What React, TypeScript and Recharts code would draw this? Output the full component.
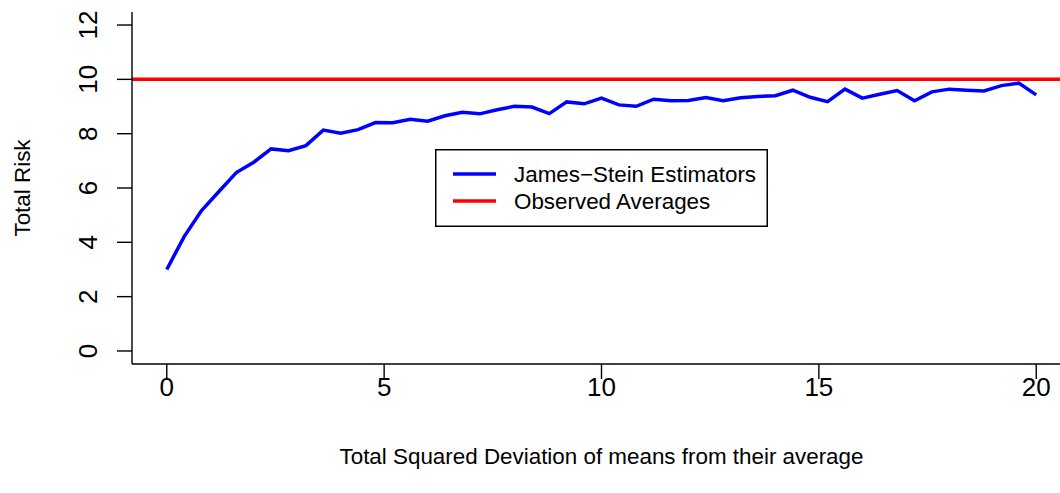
import { Legend, Line, LineChart, ReferenceLine, XAxis, YAxis } from "recharts";

// squared deviation of the means (x) and total risk of the James-Stein estimators
const deviation = [
  0, 0.4, 0.8, 1.2, 1.6, 2, 2.4, 2.8, 3.2, 3.6, 4, 4.4, 4.8, 5.2, 5.6, 6, 6.4,
  6.8, 7.2, 7.6, 8, 8.4, 8.8, 9.2, 9.6, 10, 10.4, 10.8, 11.2, 11.6, 12, 12.4,
  12.8, 13.2, 13.6, 14, 14.4, 14.8, 15.2, 15.6, 16, 16.4, 16.8, 17.2, 17.6, 18,
  18.4, 18.8, 19.2, 19.6, 20,
];
const jamesStein = [
  3.0, 4.21, 5.17, 5.87, 6.57, 6.95, 7.44, 7.37, 7.56, 8.13, 8.02, 8.15, 8.41,
  8.4, 8.53, 8.46, 8.66, 8.79, 8.73, 8.88, 9.01, 8.98, 8.74, 9.17, 9.1, 9.31,
  9.06, 9.01, 9.27, 9.21, 9.22, 9.33, 9.21, 9.32, 9.37, 9.4, 9.6, 9.34, 9.18,
  9.64, 9.31, 9.45, 9.59, 9.21, 9.54, 9.64, 9.6, 9.57, 9.77, 9.86, 9.43,
];
const observedRisk = 10;

const xTicks = [0, 5, 10, 15, 20];
const yTicks = [0, 2, 4, 6, 8, 10, 12];
const legendItems = [
  { label: "James\u2212Stein Estimators", color: "#0000FF" },
  { label: "Observed Averages", color: "#FF0000" },
];

const data = deviation.map((x, i) => ({ x, risk: jamesStein[i] }));

const FONT = "'Liberation Sans', Arial, Helvetica, sans-serif";
const TICK_FONT = 26;
const TEXT_FONT = 22.4;

function XTick({ x, y, payload }: any) {
  return (
    <text x={x} y={y + 17} textAnchor="middle" fontSize={TICK_FONT} fontFamily={FONT} fill="#000">
      {payload.value}
    </text>
  );
}

function YTick({ x, y, payload }: any) {
  return (
    <g transform={`translate(${x - 20}, ${y}) rotate(-90)`}>
      <text x={0} y={0} textAnchor="middle" fontSize={TICK_FONT} fontFamily={FONT} fill="#000">
        {payload.value}
      </text>
    </g>
  );
}

function LegendBox() {
  return (
    <svg width={333} height={78} style={{ display: "block" }}>
      <rect x={0.75} y={0.75} width={331.5} height={76.5} fill="#fff" stroke="#000" strokeWidth={1.5} />
      {legendItems.map((item, i) => (
        <g key={item.label}>
          <line x1={18} x2={61} y1={25 + i * 27} y2={25 + i * 27} stroke={item.color} strokeWidth={3.5} />
          <text x={79} y={33 + i * 27} fontSize={TEXT_FONT} fontFamily={FONT} fill="#000">
            {item.label}
          </text>
        </g>
      ))}
    </svg>
  );
}

export default function App() {
  return (
    <div
      style={{
        position: "absolute",
        left: 0,
        top: 0,
        width: 1060,
        height: 493,
        overflow: "hidden",
        background: "#fff",
      }}
    >
      <LineChart width={1100} height={493} data={data} margin={{ top: 12, right: 29, left: 0, bottom: 0 }}>
        <XAxis
          dataKey="x"
          type="number"
          domain={[-0.8, 20.8]}
          ticks={xTicks}
          allowDataOverflow
          height={129}
          tickSize={15}
          tickMargin={0}
          tick={<XTick />}
          stroke="#000"
          strokeWidth={1.4}
          label={() => (
            <text
              x={601.5}
              y={464}
              textAnchor="middle"
              fontSize={TEXT_FONT}
              fontFamily={FONT}
              fill="#000"
            >
              Total Squared Deviation of means from their average
            </text>
          )}
        />
        <XAxis
          xAxisId="top"
          orientation="top"
          type="number"
          domain={[-0.8, 20.8]}
          height={0}
          tick={false}
          tickLine={false}
          stroke="#000"
          strokeWidth={1.4}
        />
        <YAxis
          type="number"
          domain={[-0.48, 12.48]}
          ticks={yTicks}
          allowDataOverflow
          width={132}
          tickSize={15}
          tickMargin={0}
          tick={<YTick />}
          stroke="#000"
          strokeWidth={1.4}
          label={() => (
            <g transform="translate(30, 188) rotate(-90)">
              <text x={0} y={0} textAnchor="middle" fontSize={TEXT_FONT} fontFamily={FONT} fill="#000">
                Total Risk
              </text>
            </g>
          )}
        />
        <ReferenceLine y={observedRisk} stroke="#FF0000" strokeWidth={3.5} />
        <Line
          type="linear"
          dataKey="risk"
          stroke="#0000FF"
          strokeWidth={3.5}
          dot={false}
          isAnimationActive={false}
        />
        <Legend
          verticalAlign="middle"
          layout="horizontal"
          content={() => <LegendBox />}
          wrapperStyle={{ position: "absolute", left: 435, top: 149, width: 333, height: 78 }}
        />
      </LineChart>
    </div>
  );
}
